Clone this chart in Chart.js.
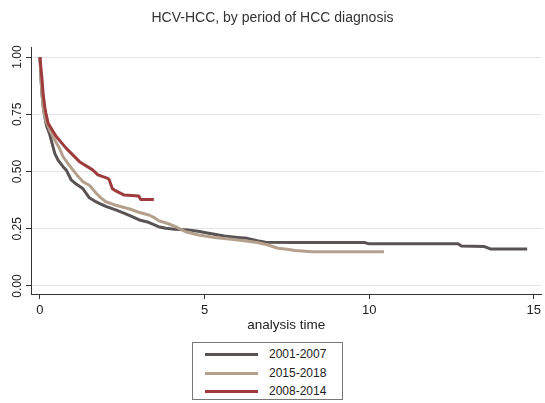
<!DOCTYPE html>
<html>
<head>
<meta charset="utf-8">
<script src="https://cdn.jsdelivr.net/npm/chart.js@4/dist/chart.umd.min.js"></script>
<style>
  html, body { margin: 0; padding: 0; background: #fff; }
  body { font-family: 'Liberation Sans', Arial, sans-serif; }
  #wrap { position: relative; width: 545px; height: 403px; }
  #area { position: absolute; left: 0; top: 0; width: 545px; height: 340px; }
  #legenda { position: absolute; left: 192px; top: 342px; width: 149px; height: 56px;
             border: 1px solid #777; }
  .item { position: absolute; left: 0; height: 14px; }
  .item i { position: absolute; left: 12px; top: 5px; width: 53px; height: 3px; }
  .item span { position: absolute; left: 76px; top: -1px; font-size: 12px; color: #222; white-space: nowrap; }
</style>
</head>
<body>
<div id="wrap">
  <div id="area"><canvas id="km"></canvas></div>
  <div id="legenda"></div>
</div>
<script>
// Curvas de Kaplan-Meier (tempo em anos, sobrevida)
const T_2001 = [0, 0.03, 0.06, 0.1, 0.15, 0.2, 0.3, 0.45, 0.55, 0.7, 0.8, 0.95, 1.1, 1.3, 1.4, 1.5, 1.65, 1.8, 2.0, 2.3, 2.55, 2.8, 3.05, 3.3, 3.6, 3.82, 4.1, 4.5, 4.85, 5.0, 5.3, 5.6, 6.0, 6.3, 6.6, 6.85, 7.65, 9.85, 10.0, 12.7, 12.8, 13.5, 13.7, 14.8];
const S_2001 = [1.0, 0.91, 0.84, 0.78, 0.735, 0.7, 0.66, 0.579, 0.55, 0.521, 0.506, 0.463, 0.445, 0.426, 0.405, 0.385, 0.372, 0.361, 0.348, 0.332, 0.318, 0.303, 0.287, 0.278, 0.259, 0.252, 0.248, 0.245, 0.238, 0.234, 0.226, 0.218, 0.212, 0.208, 0.198, 0.191, 0.19, 0.19, 0.184, 0.184, 0.175, 0.172, 0.161, 0.161];

const T_2015 = [0, 0.03, 0.06, 0.1, 0.15, 0.2, 0.3, 0.45, 0.58, 0.7, 0.85, 1.0, 1.15, 1.3, 1.5, 1.71, 1.85, 2.0, 2.25, 2.5, 2.75, 3.0, 3.31, 3.5, 3.61, 3.86, 4.12, 4.42, 4.82, 5.3, 5.82, 6.2, 6.6, 6.9, 7.23, 7.5, 7.75, 8.25, 10.45];
const S_2015 = [1.0, 0.91, 0.84, 0.78, 0.74, 0.715, 0.68, 0.638, 0.605, 0.565, 0.535, 0.507, 0.48, 0.456, 0.44, 0.405, 0.385, 0.368, 0.355, 0.345, 0.335, 0.322, 0.31, 0.296, 0.285, 0.274, 0.259, 0.237, 0.223, 0.212, 0.204, 0.198, 0.19, 0.18, 0.165, 0.16, 0.155, 0.15, 0.15];

const T_2008 = [0, 0.03, 0.06, 0.1, 0.15, 0.18, 0.25, 0.4, 0.5, 0.8, 1.2, 1.6, 1.76, 2.06, 2.1, 2.2, 2.26, 2.56, 3.0, 3.06, 3.46];
const S_2008 = [1.0, 0.95, 0.907, 0.834, 0.78, 0.755, 0.71, 0.675, 0.652, 0.601, 0.543, 0.507, 0.485, 0.47, 0.465, 0.425, 0.419, 0.397, 0.393, 0.378, 0.378];

const X_TICKS = [0, 5, 10, 15];
const Y_TICKS = [0, 0.25, 0.5, 0.75, 1];

const pares = (ts, ss) => ts.map((t, i) => ({ x: t, y: ss[i] }));

function serie(label, ts, ss, cor, ordem) {
  return {
    label, data: pares(ts, ss), borderColor: cor, backgroundColor: cor,
    borderWidth: 3, pointRadius: 0, showLine: true, tension: 0,
    fill: false, order: ordem, borderJoinStyle: "round",
  };
}

Chart.defaults.font.family = "'Liberation Sans', Arial, sans-serif";
Chart.defaults.color = "#222";

const grafico = new Chart(document.getElementById("km"), {
  type: "scatter",
  data: {
    datasets: [
      serie("2001-2007", T_2001, S_2001, "#5a5354", 2),
      serie("2015-2018", T_2015, S_2015, "#b5a08e", 1),
      serie("2008-2014", T_2008, S_2008, "#9e3c3d", 0),
    ],
  },
  options: {
    responsive: true,
    maintainAspectRatio: false,
    animation: false,
    layout: { padding: 0 },
    plugins: {
      title: {
        display: true, text: "HCV-HCC, by period of HCC diagnosis",
        font: { size: 14, weight: "normal" }, color: "#333",
        padding: { top: 9.6, bottom: 20.6 },
      },
      legend: { display: false },
      tooltip: { enabled: false },
    },
    scales: {
      x: {
        type: "linear", min: -0.272, max: 15.24,
        afterBuildTicks: ax => { ax.ticks = X_TICKS.map(v => ({ value: v })); },
        afterFit: ax => { ax.height = 46; },
        grid: { drawOnChartArea: false, tickLength: 5, color: "#333" },
        border: { color: "#333", width: 1 },
        ticks: { font: { size: 13 }, color: "#222", padding: 4, maxRotation: 0 },
        title: { display: true, text: "analysis time", font: { size: 13.5 }, color: "#222",
                 padding: { top: 0, bottom: 6.9 } },
      },
      y: {
        type: "linear", min: -0.035, max: 1.0437,
        afterBuildTicks: ax => { ax.ticks = Y_TICKS.map(v => ({ value: v })); },
        afterFit: ax => { ax.width = 31; },
        grid: { color: "#e4e4e4", tickColor: "#333", tickLength: 5, lineWidth: 1 },
        border: { color: "#333", width: 1 },
        ticks: {
          font: { size: 12 }, color: "#222", minRotation: 90, maxRotation: 90,
          crossAlign: "center", padding: -3,
          callback: v => v.toFixed(2),
        },
      },
    },
  },
});

// legenda em caixa, uma linha por grupo, como no Stata
const leg = document.getElementById("legenda");
grafico.data.datasets.forEach((ds, i) => {
  const item = document.createElement("div");
  item.className = "item";
  item.style.top = (5 + i * 18.5) + "px";
  item.innerHTML = `<i style="background:${ds.borderColor}"></i><span>${ds.label}</span>`;
  leg.appendChild(item);
});
</script>
</body>
</html>
